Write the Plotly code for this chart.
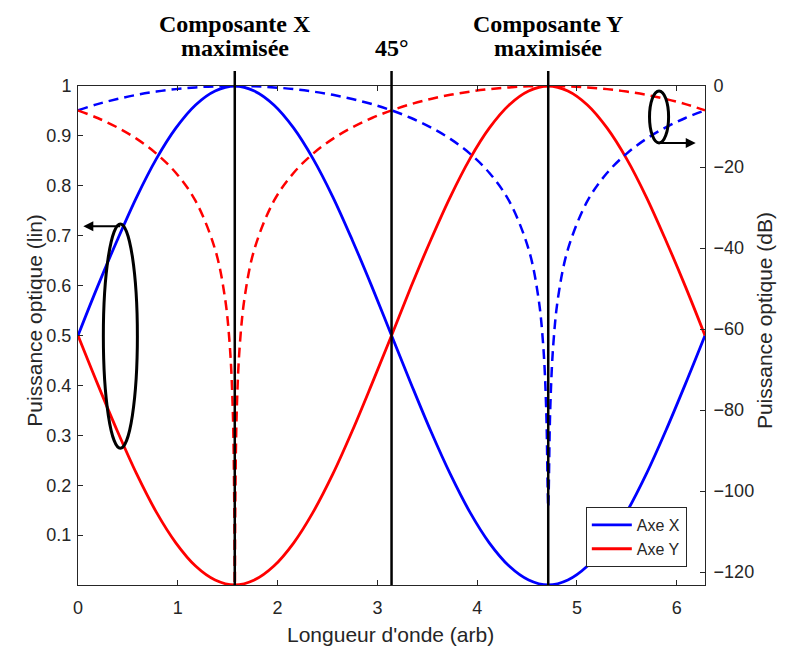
import plotly.graph_objects as go

# wavelength samples (arb units)
x_lin = [0.000, 0.196, 0.393, 0.589, 0.785, 0.982, 1.178, 1.374, 1.571, 1.767, 1.963,
         2.160, 2.356, 2.553, 2.749, 2.945, 3.142, 3.338, 3.534, 3.731, 3.927, 4.123,
         4.320, 4.516, 4.712, 4.909, 5.105, 5.301, 5.498, 5.694, 5.890, 6.087, 6.283]

# linear power, Axe X (blue) and Axe Y (red)
axe_x_lin = [0.500, 0.598, 0.691, 0.778, 0.854, 0.916, 0.962, 0.990, 1.000, 0.990, 0.962,
             0.916, 0.854, 0.778, 0.691, 0.598, 0.500, 0.403, 0.309, 0.222, 0.146, 0.084,
             0.038, 0.010, 0.000, 0.010, 0.038, 0.084, 0.146, 0.222, 0.309, 0.403, 0.500]
axe_y_lin = [0.500, 0.403, 0.309, 0.222, 0.146, 0.084, 0.038, 0.010, 0.000, 0.010, 0.038,
             0.084, 0.146, 0.222, 0.309, 0.403, 0.500, 0.598, 0.691, 0.778, 0.854, 0.916,
             0.962, 0.990, 1.000, 0.990, 0.962, 0.916, 0.854, 0.778, 0.691, 0.598, 0.500]

# power in dB (dashed), denser around the notches
x_db_x = [0.000, 0.196, 0.393, 0.589, 0.785, 0.982, 1.178, 1.374, 1.571, 1.767, 1.963,
          2.160, 2.356, 2.553, 2.749, 2.945, 3.142, 3.338, 3.534, 3.731, 3.927, 4.123,
          4.320, 4.516, 4.612, 4.662, 4.692, 4.707, 4.712, 4.717, 4.732, 4.762, 4.812,
          4.909, 5.105, 5.301, 5.498, 5.694, 5.890, 6.087, 6.283]
axe_x_db = [-6.02, -4.47, -3.21, -2.18, -1.38, -0.77, -0.34, -0.08, 0.00, -0.08, -0.34,
            -0.77, -1.38, -2.18, -3.21, -4.47, -6.02, -7.90, -10.21, -13.06, -16.69, -21.48,
            -28.38, -40.35, -52.0, -64.1, -80.0, -100.0, -104.0, -100.0, -80.0, -64.1, -52.0,
            -40.35, -28.38, -21.48, -16.69, -13.06, -10.21, -7.90, -6.02]

x_db_y = [0.000, 0.196, 0.393, 0.589, 0.785, 0.982, 1.178, 1.374, 1.471, 1.521, 1.551,
          1.566, 1.571, 1.576, 1.591, 1.621, 1.671, 1.767, 1.963, 2.160, 2.356, 2.553,
          2.749, 2.945, 3.142, 3.338, 3.534, 3.731, 3.927, 4.123, 4.320, 4.516, 4.712,
          4.909, 5.105, 5.301, 5.498, 5.694, 5.890, 6.087, 6.283]
axe_y_db = [-6.02, -7.90, -10.21, -13.06, -16.69, -21.48, -28.38, -40.35, -52.0, -64.1, -80.0,
            -104.0, -135.0, -104.0, -80.0, -64.1, -52.0, -40.35, -28.38, -21.48, -16.69, -13.06,
            -10.21, -7.90, -6.02, -4.47, -3.21, -2.18, -1.38, -0.77, -0.34, -0.08, 0.00,
            -0.08, -0.34, -0.77, -1.38, -2.18, -3.21, -4.47, -6.02]

marker_x = [1.571, 3.142, 4.712]
lin_ticks = [0.1, 0.2, 0.3, 0.4, 0.5, 0.6, 0.7, 0.8, 0.9, 1.0]
lin_labels = ["0.1", "0.2", "0.3", "0.4", "0.5", "0.6", "0.7", "0.8", "0.9", "1"]
db_ticks = [-120, -100, -80, -60, -40, -20, 0]
x_ticks = [0, 1, 2, 3, 4, 5, 6]

BLUE = "#0000FF"
RED = "#FF0000"
AXIS = "#262626"
SANS = "Liberation Sans, Arial, sans-serif"
SERIF = "Liberation Serif, Times New Roman, serif"

fig = go.Figure()

fig.add_trace(go.Scatter(x=x_lin, y=axe_x_lin, name="Axe X", mode="lines",
                         line=dict(color=BLUE, width=2.8, shape="spline")))
fig.add_trace(go.Scatter(x=x_lin, y=axe_y_lin, name="Axe Y", mode="lines",
                         line=dict(color=RED, width=2.8, shape="spline")))
fig.add_trace(go.Scatter(x=x_db_x, y=axe_x_db, yaxis="y2", mode="lines", showlegend=False,
                         line=dict(color=BLUE, width=2.5, dash="10px,6px", shape="spline")))
fig.add_trace(go.Scatter(x=x_db_y, y=axe_y_db, yaxis="y2", mode="lines", showlegend=False,
                         line=dict(color=RED, width=2.5, dash="10px,6px", shape="spline")))

# vertical markers, poking a little above the plot frame
for xv in marker_x:
    fig.add_shape(type="line", xref="x", yref="paper", x0=xv, x1=xv, y0=0, y1=1.03,
                  line=dict(color="black", width=2.5))

# ellipses + arrows pointing to the relevant axis
fig.add_shape(type="circle", xref="x", yref="y", x0=0.254, x1=0.595, y0=0.274, y1=0.7235,
              line=dict(color="black", width=3))
fig.add_shape(type="circle", xref="x", yref="y", x0=5.727, x1=5.918, y0=0.886, y1=0.990,
              line=dict(color="black", width=3))
fig.add_annotation(x=0.053, y=0.719, ax=0.438, ay=0.719, xref="x", yref="y", axref="x",
                   ayref="y", text="", showarrow=True, arrowhead=2, arrowsize=1,
                   arrowwidth=2, arrowcolor="black")
fig.add_annotation(x=6.19, y=0.886, ax=5.807, ay=0.886, xref="x", yref="y", axref="x",
                   ayref="y", text="", showarrow=True, arrowhead=2, arrowsize=1,
                   arrowwidth=2, arrowcolor="black")

# headers
hdr = dict(xref="x", yref="paper", showarrow=False, xanchor="center", yanchor="middle",
           font=dict(family=SERIF, size=24, color="black"))
fig.add_annotation(x=1.571, y=1.124, text="<b>Composante X</b>", **hdr)
fig.add_annotation(x=1.571, y=1.076, text="<b>maximisée</b>", **hdr)
fig.add_annotation(x=3.142, y=1.076, text="<b>45°</b>", **hdr)
fig.add_annotation(x=4.712, y=1.124, text="<b>Composante Y</b>", **hdr)
fig.add_annotation(x=4.712, y=1.076, text="<b>maximisée</b>", **hdr)

# axis titles
ttl = dict(xref="paper", yref="paper", showarrow=False, xanchor="center", yanchor="middle",
           font=dict(family=SANS, size=21, color=AXIS))
fig.add_annotation(x=-0.070, y=0.530, text="Puissance optique (lin)", textangle=-90, **ttl)
fig.add_annotation(x=1.095, y=0.530, text="Puissance optique (dB)", textangle=-90, **ttl)
fig.add_annotation(x=0.498, y=-0.100, text="Longueur d'onde (arb)", **ttl)

tick_font = dict(family=SANS, size=18, color=AXIS)
# page body adds an 8 px margin; sizes chosen so nothing falls outside the view
fig.update_layout(
    width=769, height=642,
    margin=dict(l=70, r=72, t=78, b=65),
    paper_bgcolor="white", plot_bgcolor="white",
    xaxis=dict(range=[0, 6.283], tickvals=x_ticks, ticks="inside", ticklen=5,
               tickcolor=AXIS, showline=True, linecolor=AXIS, linewidth=1,
               mirror="ticks", showgrid=False, zeroline=False, tickfont=tick_font,
               ticklabelstandoff=6, automargin=False),
    yaxis=dict(range=[0, 1], tickvals=lin_ticks, ticktext=lin_labels, ticks="inside",
               ticklen=5, tickcolor=AXIS, showline=True, linecolor=AXIS, linewidth=1,
               showgrid=False, zeroline=False, tickfont=tick_font, ticklabelstandoff=2,
               automargin=False),
    yaxis2=dict(range=[-123.2, 0], tickvals=db_ticks, overlaying="y", side="right",
                ticks="inside", ticklen=5, tickcolor=AXIS, showline=True, linecolor=AXIS,
                linewidth=1, showgrid=False, zeroline=False, tickfont=tick_font,
                ticklabelstandoff=4, automargin=False),
    legend=dict(x=0.971, y=0.036, xanchor="right", yanchor="bottom", bgcolor="white",
                bordercolor=AXIS, borderwidth=1, font=dict(family=SANS, size=16, color=AXIS),
                itemwidth=40, tracegroupgap=0),
    showlegend=True,
)

fig.write_html("out.html")
